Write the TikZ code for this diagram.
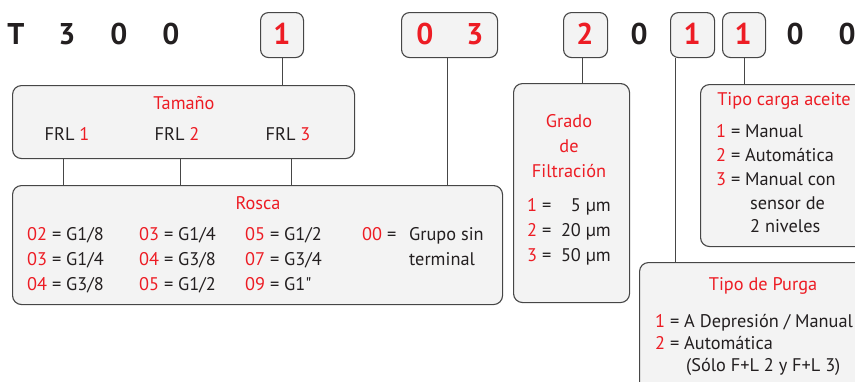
\documentclass[tikz,border=0pt]{standalone}
\usepackage{fontspec}
\setmainfont{PT Sans}[Ligatures=TeXOff]
\definecolor{myred}{RGB}{237,28,36}
\definecolor{boxfill}{RGB}{243,243,243}
\definecolor{boxline}{RGB}{70,70,70}
\definecolor{ink}{RGB}{35,31,32}
\newcommand{\rd}[1]{\textcolor{myred}{#1}}
\begin{document}
\begin{tikzpicture}[x=1pt,y=-1pt,
  box/.style={draw=boxline, fill=boxfill, line width=1.1pt, rounded corners=9pt, inner sep=0, anchor=north west},
  hbox/.style={draw=boxline, fill=boxfill, line width=1.1pt, rounded corners=8pt, inner sep=0, anchor=north west, minimum height=45pt},
  conn/.style={draw=boxline, line width=1pt},
  hdr/.style={font=\fontsize{30}{30}\selectfont\bfseries, text=ink, anchor=base, inner sep=0},
  hdrr/.style={hdr, text=myred},
  body/.style={font=\fontsize{18.3}{18}\selectfont, text=ink, inner sep=0, anchor=base west},
  ttl/.style={font=\fontsize{18.3}{18}\selectfont, text=myred, inner sep=0, anchor=base},
]
\useasboundingbox (0,0) rectangle (855,381);
\clip (0,0) rectangle (855,381);

% header boxes
\node[hbox, minimum width=43pt] (hb1) at (260,12) {};
\node[hbox, minimum width=96pt] (hb2) at (401,12) {};
\node[hbox, minimum width=44pt] (hb3) at (563,12) {};
\node[hbox, minimum width=44pt] (hb4) at (670,12) {};
\node[hbox, minimum width=43pt] (hb5) at (722,12) {};

% header text
\node[hdr] (hT) at (16,44) {T};
\node[hdr] (h3) at (67,44) {3};
\node[hdr] (h0a) at (119,44) {0};
\node[hdr] (h0b) at (171,44) {0};
\node[hdrr] (r1) at (282,44) {1};
\node[hdrr] (r0) at (425,44) {0};
\node[hdrr] (r3) at (475,44) {3};
\node[hdrr] (r2) at (585,44) {2};
\node[hdr] (h0c) at (639,44) {0};
\node[hdrr] (r1b) at (692,44) {1};
\node[hdrr] (r1c) at (743,44) {1};
\node[hdr] (h0d) at (795,44) {0};
\node[hdr] (h0e) at (847,44) {0};

% boxes
\node[box, minimum width=342pt, minimum height=73pt] (tam) at (12,85) {};
\node[box, minimum width=490pt, minimum height=119pt] (rosca) at (12,185) {};
\node[box, minimum width=116pt, minimum height=219pt] (grado) at (513,83) {};
\node[box, minimum width=200pt, minimum height=162pt] (carga) at (700,84) {};
\node[box, minimum width=260pt, minimum height=160pt] (purga) at (639,262) {};

% connectors
\draw[conn] (hb1.south) -- (hb1.south |- tam.north);
\draw[conn] ([xshift=-2pt]hb2.south) -- ([xshift=-2pt]hb2.south |- rosca.north);
\draw[conn] ([xshift=-3pt]hb3.south) -- ([xshift=-3pt]hb3.south |- grado.north);
\draw[conn] ([xshift=5pt]hb4.south west) -- ([xshift=5pt]hb4.south west |- purga.north);
\draw[conn] (hb5.south) -- (hb5.south |- carga.north);
\draw[conn] ([xshift=51pt]tam.south west) -- ([xshift=51pt]tam.south west |- rosca.north);
\draw[conn] ([xshift=168pt]tam.south west) -- ([xshift=168pt]tam.south west |- rosca.north);
\draw[conn] ([xshift=279pt]tam.south west) -- ([xshift=279pt]tam.south west |- rosca.north);

% Tamaño
\node[ttl] (tamt) at (184,109) {Tamaño};
\node[body, anchor=base] (frl1) at (67,140) {FRL \rd{1}};
\node[body, anchor=base] (frl2) at (177,140) {FRL \rd{2}};
\node[body, anchor=base] (frl3) at (288,140) {FRL \rd{3}};

% Rosca
\node[ttl] (rost) at (258,209) {Rosca};
\node[body] (ra1) at (27,240) {\rd{02} = G1/8};
\node[body] (ra2) at (27,265) {\rd{03} = G1/4};
\node[body] (ra3) at (27,290) {\rd{04} = G3/8};
\node[body] (rb1) at (139,240) {\rd{03} = G1/4};
\node[body] (rb2) at (139,265) {\rd{04} = G3/8};
\node[body] (rb3) at (139,290) {\rd{05} = G1/2};
\node[body] (rc1) at (245,240) {\rd{05} = G1/2};
\node[body] (rc2) at (245,265) {\rd{07} = G3/4};
\node[body] (rc3) at (245,290) {\rd{09} = G1"};
\node[body] (rd1) at (362,240) {\rd{00} =};
\node[body] (rd2) at (409,240) {Grupo sin};
\node[body] (rd3) at (409,265) {terminal};

% Grado
\node[ttl] (gt1) at (569,127) {Grado};
\node[ttl] (gt2) at (569,152) {de};
\node[ttl] (gt3) at (569,177) {Filtración};
\node[body] (g1) at (527,211) {\rd{1} =};
\node[body] (g2) at (527,236) {\rd{2} =};
\node[body] (g3) at (527,261) {\rd{3} =};
\node[body, anchor=base east] (g1v) at (611,211) {5 µm};
\node[body, anchor=base east] (g2v) at (611,236) {20 µm};
\node[body, anchor=base east] (g3v) at (611,261) {50 µm};

% Tipo carga aceite
\node[ttl] (ct) at (784,105) {Tipo carga aceite};
\node[body] (c1) at (716,137) {\rd{1} = Manual};
\node[body] (c2) at (716,161) {\rd{2} = Automática};
\node[body] (c3) at (716,185) {\rd{3} = Manual con};
\node[body] (c4) at (750,209) {sensor de};
\node[body] (c5) at (750,232) {2 niveles};

% Tipo de Purga
\node[ttl] (pt) at (763,290) {Tipo de Purga};
\node[body] (p1) at (655,327) {\rd{1} = A Depresión / Manual};
\node[body] (p2) at (655,349) {\rd{2} = Automática};
\node[body] (p3) at (686,371) {(Sólo F+L 2 y F+L 3)};
\end{tikzpicture}
\end{document}
